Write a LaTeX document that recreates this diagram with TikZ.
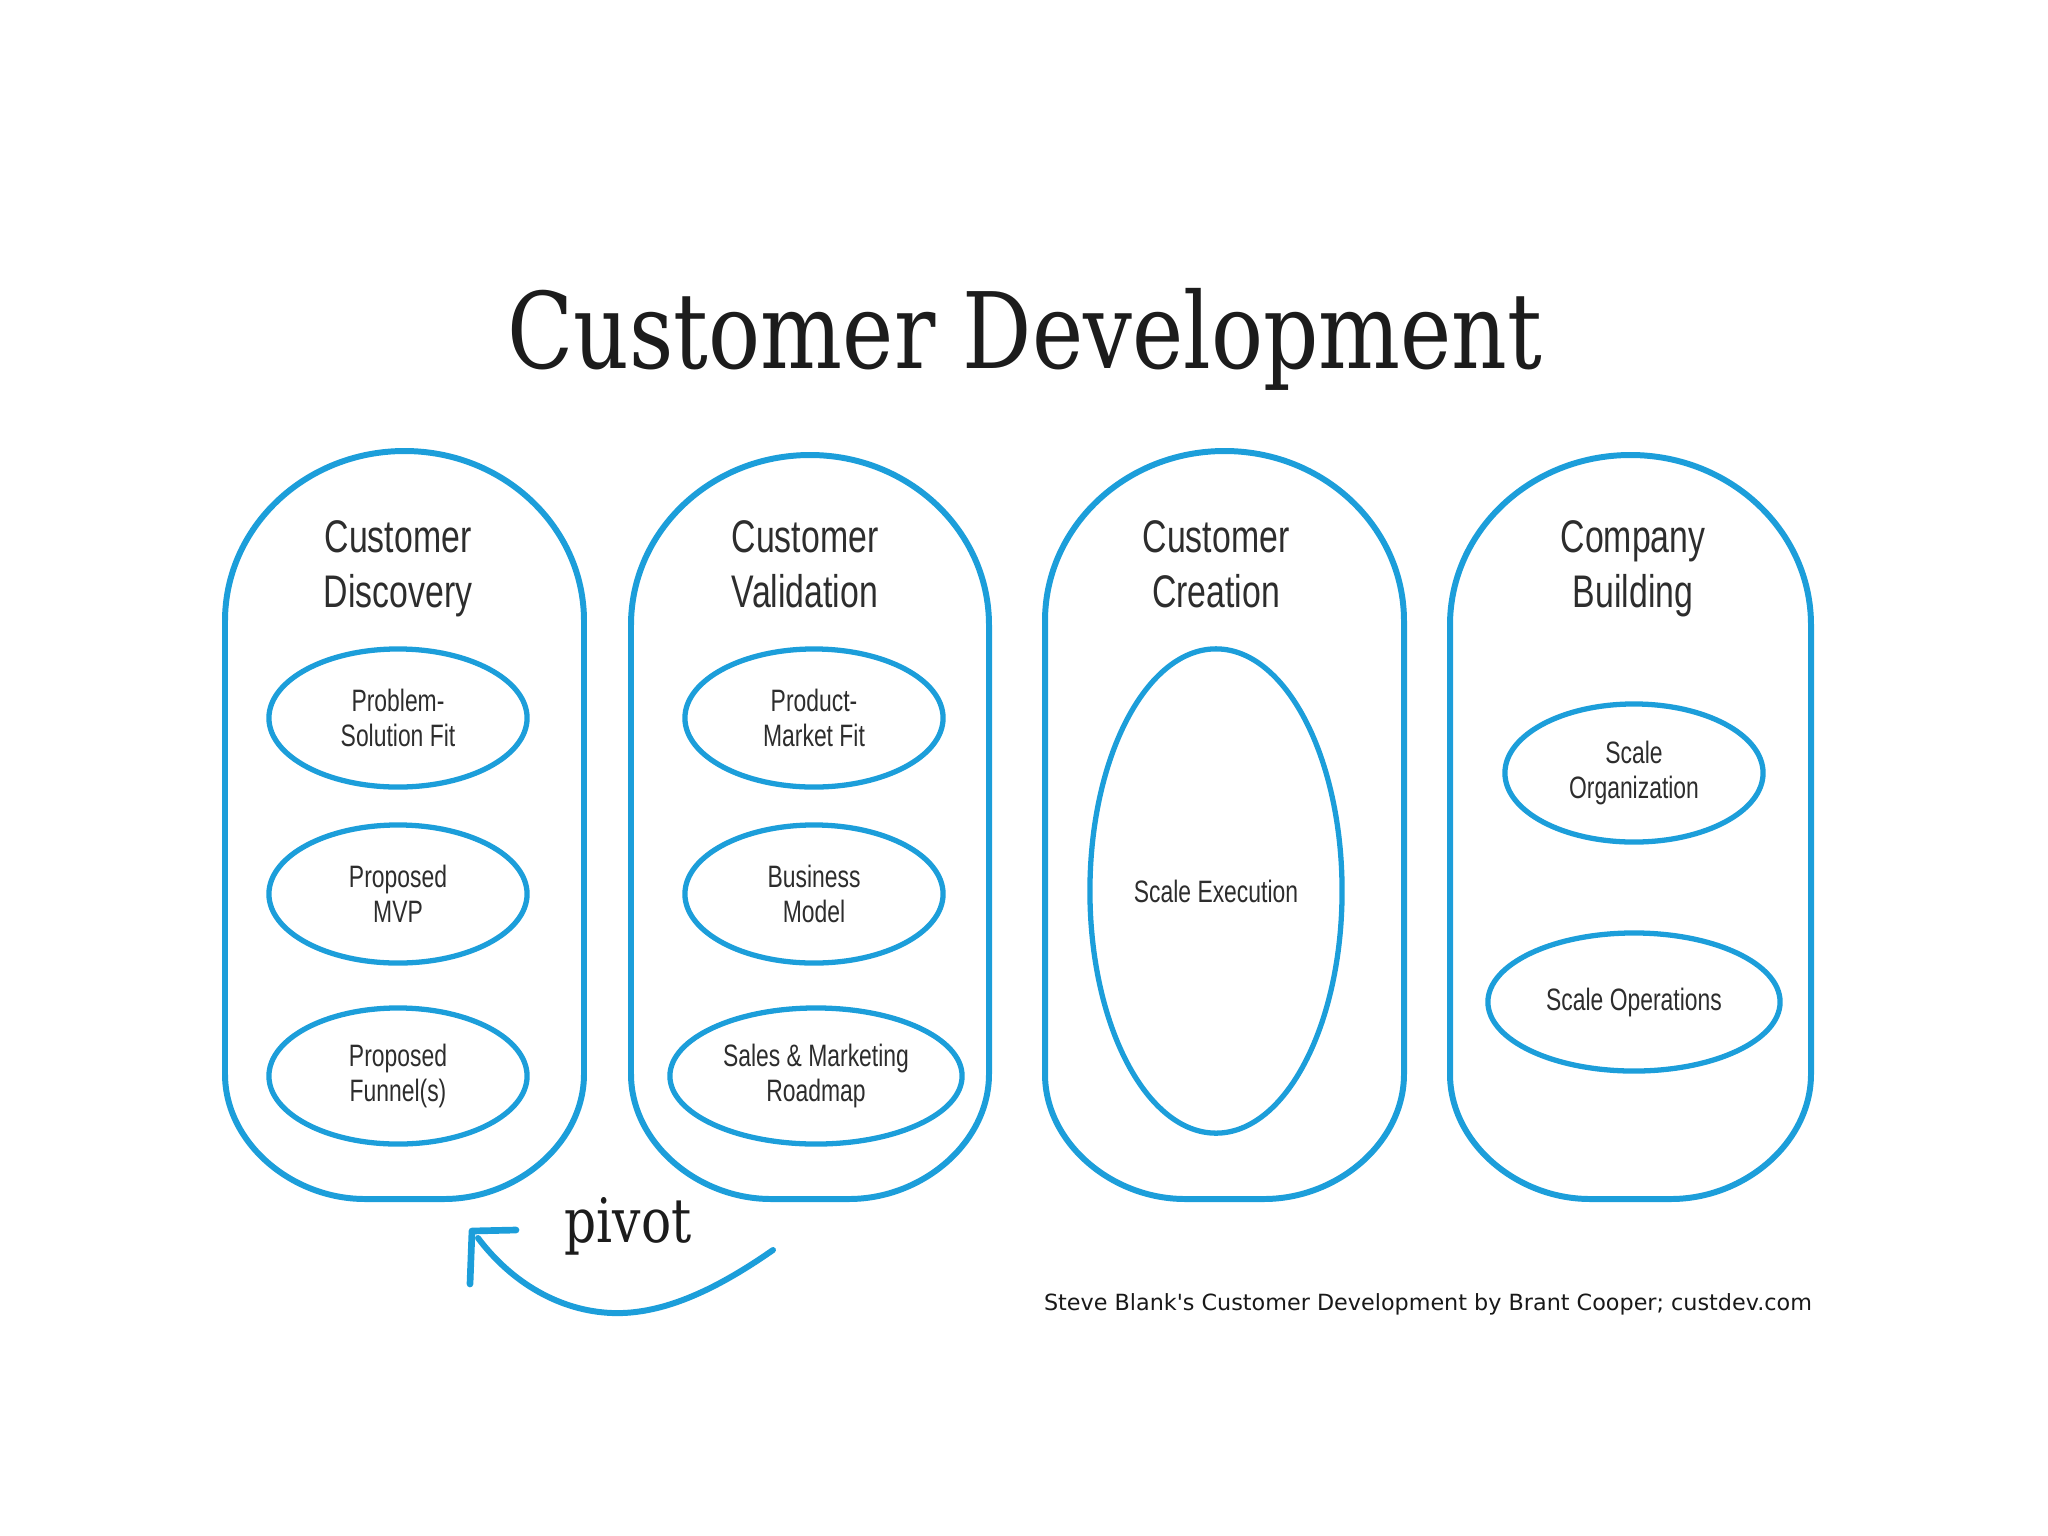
\documentclass[tikz,border=0pt]{standalone}
\usepackage{fontspec}
\setmainfont{DejaVu Serif}
\newfontfamily\titlefont[FakeStretch=0.82]{DejaVu Serif}
\newfontfamily\condfont[FakeStretch=0.74]{Liberation Sans}
\newfontfamily\footfont{DejaVu Sans}
\usetikzlibrary{shapes.geometric}
\definecolor{cdblue}{RGB}{28,158,218}
\definecolor{cdtext}{RGB}{45,45,45}
\definecolor{cdtitle}{RGB}{28,28,28}
\tikzset{
  pillline/.style={draw=cdblue, line width=1.7pt, line join=round},
  inner/.style={ellipse, draw=cdblue, line width=1.5pt, inner sep=0pt, align=center,
     text=cdtext, font=\condfont\fontsize{8.8}{9.8}\selectfont},
  phase/.style={anchor=north, inner sep=0pt, align=center, text=cdtext,
     font=\condfont\fontsize{13}{15.6}\selectfont},
}
\newcommand\drawpill[4]{%
  \pgfmathsetmacro\pcx{(#1+#2)/2}%
  \pgfmathsetmacro\pk{0.5523*(#2-#1)/2}%
  \draw[pillline] (#1,#3+170) .. controls (#1,#3+76) and (\pcx-\pk,#3) .. (\pcx,#3)
    .. controls (\pcx+\pk,#3) and (#2,#3+76) .. (#2,#3+170)
    -- (#2,#4-125) .. controls (#2,#4-56) and (#2-67,#4) .. (#2-140,#4)
    -- (#1+140,#4) .. controls (#1+67,#4) and (#1,#4-56) .. (#1,#4-125) -- cycle;%
}
\begin{document}
\begin{tikzpicture}[x=0.01cm, y=-0.01cm]
\useasboundingbox (0,0) rectangle (2048,1536);
% title
\node[anchor=base, text=cdtitle, font=\titlefont\fontsize{30}{36}\selectfont] (title) at (1025,368) {Customer Development};
% pills
\drawpill{225}{584}{451}{1199}
\drawpill{631}{989}{455}{1199}
\drawpill{1045}{1404}{451}{1199}
\drawpill{1450}{1811}{455}{1199}
% phase titles
\node[phase] (disc) at (398,520) {Customer\\Discovery};
\node[phase] (vali) at (805,520) {Customer\\Validation};
\node[phase] (crea) at (1216,520) {Customer\\Creation};
\node[phase] (comp) at (1633,520) {Company\\Building};
% inner ellipses
\node[inner, minimum width=2.58cm, minimum height=1.38cm] (psf) at (398,718) {Problem-\\Solution Fit};
\node[inner, minimum width=2.58cm, minimum height=1.38cm] (mvp) at (398,894) {Proposed\\MVP};
\node[inner, minimum width=2.58cm, minimum height=1.36cm] (fun) at (398,1076) {Proposed\\Funnel(s)};
\node[inner, minimum width=2.58cm, minimum height=1.38cm] (pmf) at (814,718) {Product-\\Market Fit};
\node[inner, minimum width=2.58cm, minimum height=1.38cm] (bm) at (814,894) {Business\\Model};
\node[inner, minimum width=2.92cm, minimum height=1.36cm] (smr) at (816,1076) {Sales \& Marketing\\Roadmap};
\node[inner, minimum width=2.52cm, minimum height=4.84cm] (se) at (1216,891) {Scale Execution};
\node[inner, minimum width=2.58cm, minimum height=1.38cm] (so) at (1634,773) {Scale\\Organization};
\node[inner, minimum width=2.92cm, minimum height=1.38cm] (sop) at (1634,1002) {Scale Operations};
% pivot
\node[text=cdtitle, font=\titlefont\fontsize{17.4}{20}\selectfont] (pivot) at (628,1226) {pivot};
\coordinate (pvS) at (773,1250);
\coordinate (pvE) at (478,1238);
\coordinate (tip) at (472,1231);
\coordinate (armA) at (516,1230);
\coordinate (armB) at (470,1284);
\draw[draw=cdblue, line width=1.7pt, line cap=round] (pvS) .. controls (720,1287) and (665,1315) .. (612,1313)
   .. controls (560,1311) and (512,1283) .. (pvE);
\draw[draw=cdblue, line width=1.9pt, line cap=round, line join=round] (armA) -- (tip) -- (armB);
% footer
\node[text=black!90, font=\footfont\fontsize{6.34}{8}\selectfont] (credit) at (1428,1304) {Steve Blank's Customer Development by Brant Cooper; custdev.com};
\end{tikzpicture}
\end{document}
